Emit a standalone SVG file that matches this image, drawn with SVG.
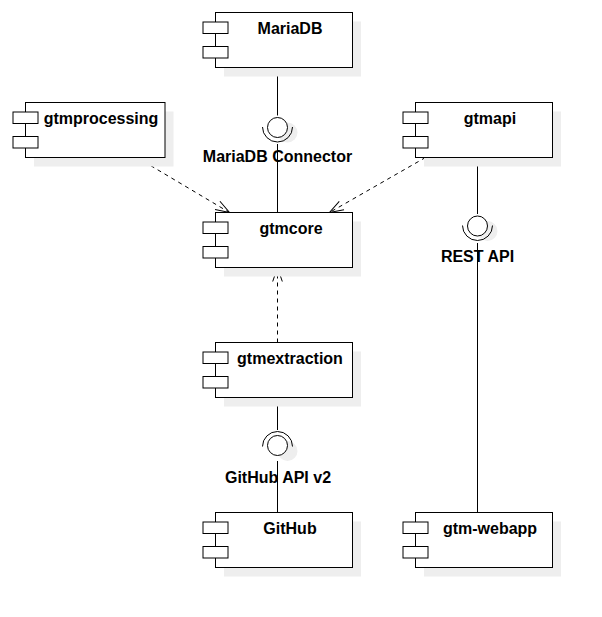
<svg xmlns="http://www.w3.org/2000/svg" width="602" height="617" viewBox="0 0 602 617">
<style>
.box{fill:#ffffff;stroke:#000000;stroke-width:1}
.shadow{fill:#eeeeee;stroke:none}
.lbl{font-family:"Liberation Sans",Arial,Helvetica,sans-serif;font-size:16px;font-weight:bold;fill:#000000;text-anchor:middle}
.line{fill:none;stroke:#000000;stroke-width:1}
.dep{fill:none;stroke:#000000;stroke-width:1;stroke-dasharray:4 4}
.sock{fill:none;stroke:#000000;stroke-width:1}
</style>
<defs>
<marker id="open" markerUnits="userSpaceOnUse" viewBox="-16 -8 18 16" refX="0" refY="0" markerWidth="18" markerHeight="16" orient="auto">
<path d="M-14,-4.8 L0,0 L-14,4.8" fill="none" stroke="#000000" stroke-width="1" stroke-dasharray="none"/>
</marker>
</defs>
<rect width="602" height="617" fill="#ffffff"/>

<g id="connectors">
<line class="line" x1="277.5" y1="67.5" x2="277.5" y2="115.5"/>
<line class="line" x1="277.5" y1="144" x2="277.5" y2="212.5"/>
<line class="line" x1="477.5" y1="157.5" x2="477.5" y2="214"/>
<line class="line" x1="477.5" y1="243" x2="477.5" y2="512.5"/>
<line class="line" x1="277.5" y1="397.5" x2="277.5" y2="430"/>
<line class="line" x1="277.5" y1="461" x2="277.5" y2="512.5"/>
<path class="dep" d="M137,157.5 L229.5,212.5" marker-end="url(#open)"/>
<path class="dep" d="M425.5,157.5 L329.5,212.5" marker-end="url(#open)"/>
<path class="dep" d="M277.5,342.5 L277.5,267.5" marker-end="url(#open)"/>
</g>

<g id="mariadb-connector">
<circle class="shadow" cx="287.5" cy="132.5" r="10"/>
<circle cx="277.5" cy="127.5" r="10" fill="#ffffff" stroke="#000000" stroke-width="1"/>
<path class="sock" d="M262.5,127 A15,15 0 0 0 292.5,127"/>
<text class="lbl" x="277.5" y="162">MariaDB Connector</text>
</g>

<g id="rest-api">
<circle class="shadow" cx="487.5" cy="231" r="10"/>
<circle cx="477.5" cy="226" r="10" fill="#ffffff" stroke="#000000" stroke-width="1"/>
<path class="sock" d="M462.5,225.5 A15,15 0 0 0 492.5,225.5"/>
<text class="lbl" x="477.5" y="261.5">REST API</text>
</g>

<g id="github-api">
<circle class="shadow" cx="287.5" cy="451" r="10"/>
<circle cx="277.5" cy="445.5" r="10" fill="#ffffff" stroke="#000000" stroke-width="1"/>
<path class="sock" d="M262.5,446.5 A15,15 0 0 1 292.5,446.5"/>
<text class="lbl" x="278" y="482.5">GitHub API v2</text>
</g>

<g id="mariadb">
<rect class="shadow" x="224" y="21.5" width="137" height="55"/>
<rect class="box" x="215.5" y="12.5" width="137" height="55"/>
<rect class="box" x="203" y="22" width="25" height="11.5"/>
<rect class="box" x="203" y="46.5" width="25" height="11.5"/>
<text class="lbl" x="290" y="33.5">MariaDB</text>
</g>

<g id="gtmprocessing">
<rect class="shadow" x="34" y="111.5" width="139.5" height="55"/>
<rect class="box" x="25.5" y="102.5" width="139.5" height="55"/>
<rect class="box" x="13" y="112" width="25" height="11.5"/>
<rect class="box" x="13" y="136.5" width="25" height="11.5"/>
<text class="lbl" x="101" y="123.5">gtmprocessing</text>
</g>

<g id="gtmapi">
<rect class="shadow" x="424" y="111.5" width="137" height="55"/>
<rect class="box" x="415.5" y="102.5" width="137" height="55"/>
<rect class="box" x="403" y="112" width="25" height="11.5"/>
<rect class="box" x="403" y="136.5" width="25" height="11.5"/>
<text class="lbl" x="490" y="123.5">gtmapi</text>
</g>

<g id="gtmcore">
<rect class="shadow" x="224" y="221.5" width="137" height="55"/>
<rect class="box" x="215.5" y="212.5" width="137" height="55"/>
<rect class="box" x="203" y="222" width="25" height="11.5"/>
<rect class="box" x="203" y="246.5" width="25" height="11.5"/>
<text class="lbl" x="291" y="233.5">gtmcore</text>
</g>

<g id="gtmextraction">
<rect class="shadow" x="224" y="351.5" width="137" height="55"/>
<rect class="box" x="215.5" y="342.5" width="137" height="55"/>
<rect class="box" x="203" y="352" width="25" height="11.5"/>
<rect class="box" x="203" y="376.5" width="25" height="11.5"/>
<text class="lbl" x="290" y="363.5">gtmextraction</text>
</g>

<g id="github">
<rect class="shadow" x="224" y="521.5" width="137" height="55"/>
<rect class="box" x="215.5" y="512.5" width="137" height="55"/>
<rect class="box" x="203" y="522" width="25" height="11.5"/>
<rect class="box" x="203" y="546.5" width="25" height="11.5"/>
<text class="lbl" x="290" y="533.5">GitHub</text>
</g>

<g id="gtm-webapp">
<rect class="shadow" x="424" y="521.5" width="137" height="55"/>
<rect class="box" x="415.5" y="512.5" width="137" height="55"/>
<rect class="box" x="403" y="522" width="25" height="11.5"/>
<rect class="box" x="403" y="546.5" width="25" height="11.5"/>
<text class="lbl" x="490" y="533.5">gtm-webapp</text>
</g>
</svg>
